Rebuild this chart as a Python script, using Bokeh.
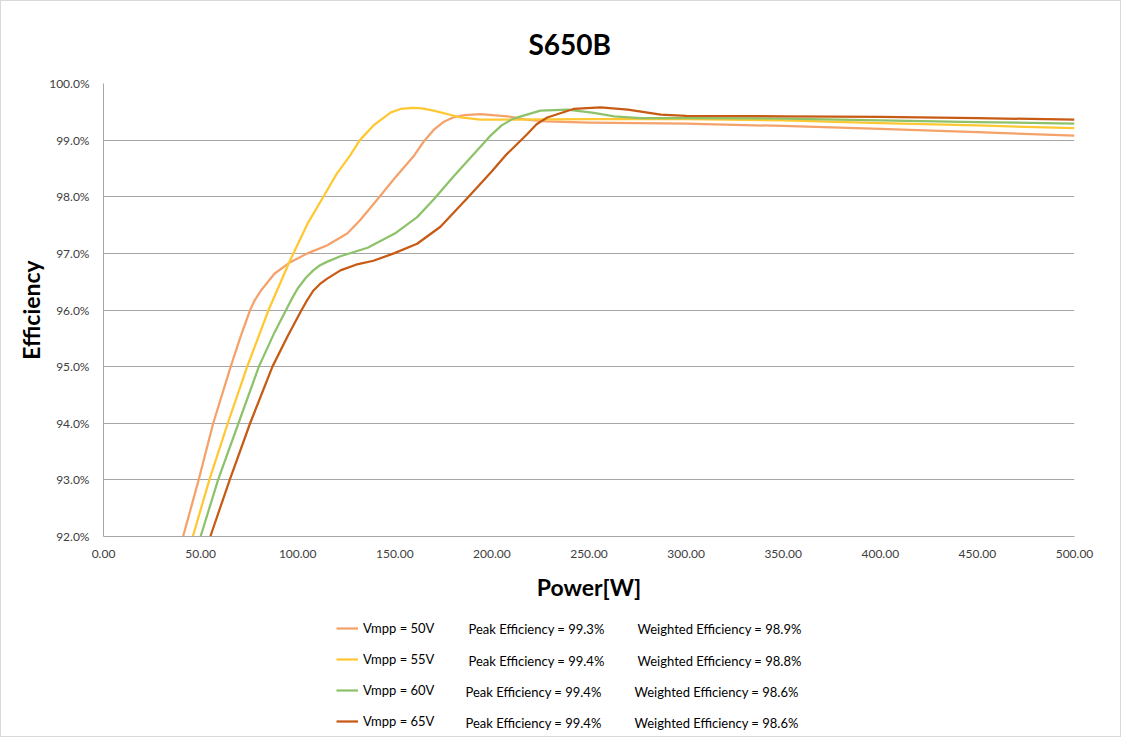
from bokeh.plotting import figure
from bokeh.layouts import column
from bokeh.models import (Range1d, Legend, LegendItem, Label, SingleIntervalTicker,
                          PrintfTickFormatter, ColumnDataSource)
from bokeh.embed import file_html
from bokeh.resources import INLINE

TITLE = "S650B"
X_LABEL = "Power[W]"
Y_LABEL = "Efficiency"

# Vmpp = 50V
P50 = [41, 49, 56.5, 65.5, 70.5, 75.5, 78, 81, 88, 96, 105, 115, 125.5, 132, 141, 150, 160, 165,
       170, 175, 180, 186, 194, 208, 218, 228, 250, 300, 350, 400, 450, 500]
E50 = [92.0, 93.0, 94.0, 95.0, 95.52, 96.0, 96.18, 96.34, 96.64, 96.84, 97.0, 97.14, 97.35, 97.58,
       97.95, 98.33, 98.73, 98.98, 99.18, 99.32, 99.4, 99.44, 99.46, 99.42, 99.36, 99.33, 99.31,
       99.29, 99.25, 99.2, 99.14, 99.08]
# Vmpp = 55V
P55 = [46, 54.5, 64, 74, 85, 96, 105, 112, 120, 127, 132, 139, 148, 153, 159, 164, 170, 184, 194,
       210, 250, 300, 350, 400, 450, 500]
E55 = [92.0, 93.0, 94.0, 95.0, 96.0, 96.87, 97.52, 97.93, 98.4, 98.73, 99.0, 99.26, 99.49, 99.55,
       99.57, 99.56, 99.52, 99.40, 99.36, 99.36, 99.37, 99.37, 99.35, 99.30, 99.26, 99.21]
# Vmpp = 60V
P60 = [50, 59, 69.5, 80, 88, 94, 97, 100, 104, 108, 111.5, 115, 122, 136, 150, 161.5, 170, 180,
       190, 199, 205, 211, 225, 239, 252.5, 263, 276.5, 300, 350, 400, 450, 500]
E60 = [92.0, 93.0, 94.0, 95.0, 95.6, 96.0, 96.2, 96.38, 96.56, 96.70, 96.79, 96.85, 96.95, 97.1,
       97.35, 97.64, 97.95, 98.35, 98.73, 99.07, 99.26, 99.38, 99.52, 99.54, 99.48, 99.42, 99.39,
       99.39, 99.38, 99.35, 99.32, 99.29]
# Vmpp = 65V
P65 = [55, 65, 75.5, 87, 95, 102, 105, 108, 111.5, 115, 122, 130, 139, 149.5, 161.5, 173.5, 188,
       200, 207, 218, 223, 228.5, 242, 256, 270, 287, 300, 350, 400, 450, 500]
E65 = [92.0, 93.0, 94.0, 95.0, 95.55, 96.0, 96.18, 96.34, 96.46, 96.55, 96.70, 96.80, 96.87, 97.0,
       97.17, 97.47, 98.0, 98.45, 98.73, 99.1, 99.28, 99.40, 99.55, 99.58, 99.54, 99.45, 99.43,
       99.42, 99.41, 99.39, 99.36]

VMPP = ["Vmpp = 50V", "Vmpp = 55V", "Vmpp = 60V", "Vmpp = 65V"]
PEAK = ["99.3%", "99.4%", "99.4%", "99.4%"]
WEIGHTED = ["98.9%", "98.8%", "98.6%", "98.6%"]
COLORS = ["#F4A26A", "#FFC832", "#8DC26A", "#C75A14"]

FONT = "Lato"
W = 1119
H_MAIN = 605
H_LEG = 130

p = figure(width=W, height=H_MAIN, output_backend="svg", toolbar_location=None,
           x_range=Range1d(0, 500), y_range=Range1d(92, 100),
           min_border_left=102, min_border_right=46, min_border_top=82, min_border_bottom=70)
p.outline_line_color = None
p.background_fill_color = "white"
p.border_fill_color = "white"

p.title.text = TITLE
p.title.text_font = FONT
p.title.text_font_size = "28px"
p.title.text_font_style = "bold"
p.title.text_color = "#000000"
p.title.align = "left"
p.title.offset = 425
p.title.standoff = 46

p.xaxis.ticker = SingleIntervalTicker(interval=50)
p.yaxis.ticker = SingleIntervalTicker(interval=1)
p.xaxis.formatter = PrintfTickFormatter(format="%.2f")
p.yaxis.formatter = PrintfTickFormatter(format="%.1f%%")
for ax in (p.xaxis, p.yaxis):
    ax.major_tick_line_color = None
    ax.minor_tick_line_color = None
    ax.axis_line_color = "#A6A6A6"
    ax.major_label_text_font = FONT
    ax.major_label_text_font_size = "12px"
    ax.major_label_text_color = "#404040"
    ax.axis_label_text_font = FONT
    ax.axis_label_text_font_size = "23px"
    ax.axis_label_text_font_style = "bold"
    ax.axis_label_text_color = "#000000"
p.xaxis.axis_label = X_LABEL
p.yaxis.axis_label = Y_LABEL
p.xaxis.major_label_standoff = 7
p.yaxis.major_label_standoff = 8
p.xaxis.axis_label_standoff = 12
p.yaxis.axis_label_standoff = 1

p.xgrid.grid_line_color = None
p.ygrid.grid_line_color = "#A6A6A6"
p.ygrid.grid_line_width = 1

series = [(P50, E50), (P55, E55), (P60, E60), (P65, E65)]
sources = []
for (px, ey), c in zip(series, COLORS):
    src = ColumnDataSource(data=dict(x=px, y=ey))
    sources.append(src)
    p.line("x", "y", source=src, line_color=c, line_width=2.25, line_join="round")

# legend panel below the chart
q = figure(width=W, height=H_LEG, output_backend="svg", toolbar_location=None,
           x_range=Range1d(0, 1), y_range=Range1d(0, 1),
           min_border=0, min_border_left=0, min_border_right=0,
           min_border_top=0, min_border_bottom=0)
q.axis.visible = False
q.grid.visible = False
q.outline_line_color = None
q.background_fill_color = "white"
q.border_fill_color = "white"

leg_renderers = []
for src, c in zip(sources, COLORS):
    # same series, drawn outside this panel's ranges: only its legend sample shows
    leg_renderers.append(q.line("x", "y", source=src, line_color=c, line_width=2.25))

legend = Legend(items=[LegendItem(label=t, renderers=[r]) for t, r in zip(VMPP, leg_renderers)],
                location=(233, 5), padding=0, margin=0, spacing=11,
                glyph_width=22, glyph_height=20, label_height=20, label_standoff=5,
                label_text_font=FONT, label_text_font_size="13px", label_text_color="#000000",
                border_line_color=None, background_fill_alpha=0)
q.add_layout(legend, "center")

row_y = [108, 76, 45, 14]
peak_x = [365, 365, 362, 362]
weighted_x = [534, 534, 531, 531]
for i in range(4):
    q.add_layout(Label(x=peak_x[i], y=row_y[i], x_units="screen", y_units="screen",
                       text="Peak Efficiency = " + PEAK[i], text_baseline="middle",
                       text_font=FONT, text_font_size="13px", text_color="#000000"))
    q.add_layout(Label(x=weighted_x[i], y=row_y[i], x_units="screen", y_units="screen",
                       text="Weighted Efficiency = " + WEIGHTED[i], text_baseline="middle",
                       text_font=FONT, text_font_size="13px", text_color="#000000"))

layout = column(p, q, spacing=0)
layout.styles = {"border": "1px solid #D9D9D9"}

open("out.html", "w").write(file_html(layout, INLINE))
